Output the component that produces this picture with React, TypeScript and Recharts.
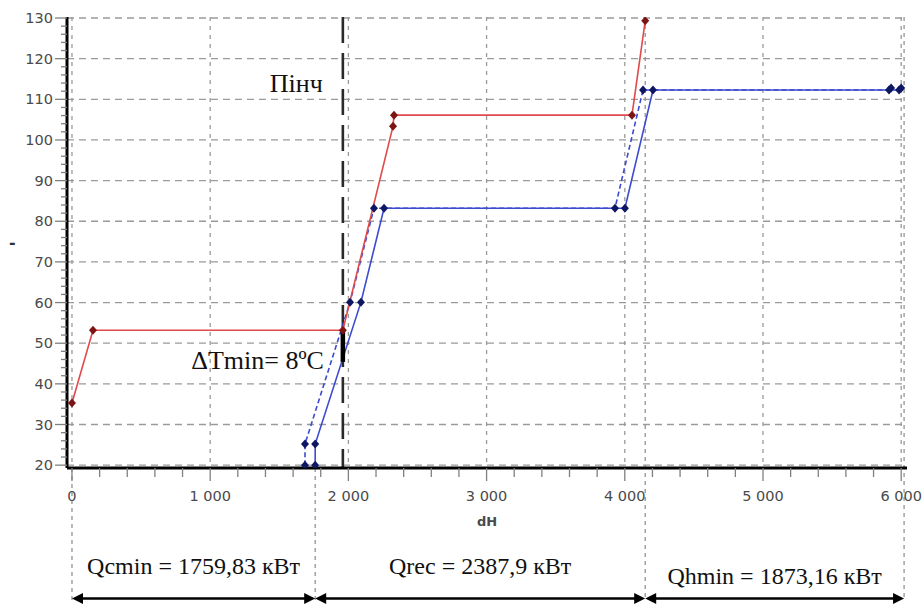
import React from 'react';
import { LineChart, Line, XAxis, YAxis, CartesianGrid, ReferenceLine, ReferenceDot, Label } from 'recharts';

// hot composite curve (red)
const HOT_DH = [0, 152, 1960, 2323, 2330, 4052, 4147.73];
const HOT_T = [35.3, 53.2, 53.2, 103.4, 106.1, 106.1, 129.3];

// cold composite curve (blue, solid)
const COLD_DH = [1759.83, 1759.83, 2091, 2258, 4001, 4204, 5985, 6000];
const COLD_T = [20, 25.2, 60.1, 83.2, 83.2, 112.3, 112.3, 112.8];

// shifted cold curve (blue, dashed)
const COLD_SH_DH = [1686, 1686, 2012, 2185, 3929, 4132, 5912, 5927];
const COLD_SH_T = [20, 25.2, 60.1, 83.2, 83.2, 112.3, 112.3, 112.8];

const X_TICKS = [0, 200, 400, 600, 800, 1000, 1200, 1400, 1600, 1800, 2000, 2200, 2400, 2600, 2800, 3000,
  3200, 3400, 3600, 3800, 4000, 4200, 4400, 4600, 4800, 5000, 5200, 5400, 5600, 5800, 6000];
const X_GRID = [0, 1000, 2000, 3000, 4000, 5000, 6000];
const Y_TICKS = [20, 22, 24, 26, 28, 30, 32, 34, 36, 38, 40, 42, 44, 46, 48, 50, 52, 54, 56, 58, 60, 62, 64, 66,
  68, 70, 72, 74, 76, 78, 80, 82, 84, 86, 88, 90, 92, 94, 96, 98, 100, 102, 104, 106, 108, 110, 112, 114, 116,
  118, 120, 122, 124, 126, 128, 130];
const Y_GRID = [20, 30, 40, 50, 60, 70, 80, 90, 100, 110, 120, 130];

const PINCH_DH = 1960;
const PINCH_HOT = 53.4;
const PINCH_COLD = 45.4;
const BOUNDS = [0, 1759.83, 4147.73, 6020.89];
const Q_LABELS = ['Qcmin = 1759,83 кВт', 'Qrec = 2387,9 кВт', 'Qhmin = 1873,16 кВт'];

const X_DOMAIN = [-36, 6042];
const Y_DOMAIN = [19.3, 130.25];
const ARROW_T = -12.8;
const GUIDE_BOTTOM = -13.3;

const hot = HOT_DH.map((dh, i) => ({ dh, t: HOT_T[i] }));
const cold = COLD_DH.map((dh, i) => ({ dh, t: COLD_T[i] }));
const coldShifted = COLD_SH_DH.map((dh, i) => ({ dh, t: COLD_SH_T[i] }));

const serif = '"Liberation Serif", "Times New Roman", serif';
const sans = '"DejaVu Sans", Verdana, sans-serif';

const Diamond = ({ cx, cy, color }: any) => {
  if (cx == null || cy == null) return null;
  return <polygon points={`${cx},${cy - 4.5} ${cx + 4},${cy} ${cx},${cy + 4.5} ${cx - 4},${cy}`} fill={color} />;
};

const fmt = (v: number) => (v >= 1000 ? `${Math.floor(v / 1000)} ${String(v % 1000).padStart(3, '0')}` : String(v));

const XTick = ({ x, y, payload }: any) => {
  const major = payload.value % 1000 === 0;
  return (
    <g>
      <line x1={x} x2={x} y1={y} y2={y + (major ? 13 : 9)} stroke="#808080" strokeWidth={1.3} />
      {major && (
        <text x={x} y={y + 33} textAnchor="middle" fill="#4a4a4a" fontSize={14.5} fontFamily={sans}>
          {fmt(payload.value)}
        </text>
      )}
    </g>
  );
};

const YTick = ({ x, y, payload }: any) => {
  const major = payload.value % 10 === 0;
  return (
    <g>
      <line x1={x - (major ? 12 : 6)} x2={x} y1={y} y2={y} stroke="#808080" strokeWidth={1.3} />
      {major && (
        <text x={x - 14} y={y + 5} textAnchor="end" fill="#4a4a4a" fontSize={14.5} fontFamily={sans}>
          {payload.value}
        </text>
      )}
    </g>
  );
};

const Arrow = (p: any) => {
  const { x1, y1, x2, y2 } = p;
  const h = 11;
  const w = 5.5;
  return (
    <g>
      <line x1={x1 + 4} y1={y1} x2={x2 - 4} y2={y2} stroke="#000" strokeWidth={2.5} />
      <polygon points={`${x1},${y1} ${x1 + h},${y1 - w} ${x1 + h},${y1 + w}`} fill="#000" />
      <polygon points={`${x2},${y2} ${x2 - h},${y2 - w} ${x2 - h},${y2 + w}`} fill="#000" />
    </g>
  );
};

export default function App() {
  return (
    <div>
      <style>{'body{margin:0;background:#fff}'}</style>
      <LineChart width={922} height={605} margin={{ top: 17, right: 15, bottom: 77, left: 0 }}>
        <CartesianGrid horizontal vertical={false} horizontalValues={Y_GRID} stroke="#9a9a9a" strokeWidth={1.3} strokeDasharray="7 5" />
        <CartesianGrid horizontal={false} vertical verticalValues={X_GRID} stroke="#9a9a9a" strokeWidth={1.3} strokeDasharray="4 5" />
        <XAxis
          dataKey="dh"
          type="number"
          domain={X_DOMAIN}
          allowDataOverflow
          ticks={X_TICKS}
          interval={0}
          height={60}
          tickSize={0}
          tickMargin={0}
          tickLine={false}
          axisLine={{ stroke: '#000', strokeWidth: 3 }}
          tick={<XTick />}
        >
          <Label value="dH" position="insideBottom" offset={2} style={{ fontFamily: sans, fontSize: 13, fontWeight: 'bold', fill: '#4a4a4a' }} />
        </XAxis>
        <XAxis xAxisId="top" orientation="top" dataKey="dh" type="number" domain={X_DOMAIN} allowDataOverflow height={0} tick={false} tickLine={false} axisLine={{ stroke: '#222', strokeWidth: 2.5 }} />
        <YAxis
          type="number"
          domain={Y_DOMAIN}
          allowDataOverflow
          ticks={Y_TICKS}
          interval={0}
          width={67}
          tickSize={0}
          tickMargin={0}
          tickLine={false}
          axisLine={{ stroke: '#000', strokeWidth: 3 }}
          tick={<YTick />}
        >
          <Label value="-" position="insideLeft" offset={9} style={{ fontFamily: sans, fontSize: 16, fontWeight: 'bold', fill: '#333' }} />
        </YAxis>
        <YAxis yAxisId="right" orientation="right" type="number" domain={Y_DOMAIN} allowDataOverflow width={0} tick={false} tickLine={false} axisLine={{ stroke: '#333', strokeWidth: 2.5 }} />

        {/* guide lines of the heat balance */}
        {BOUNDS.map((b, i) => (
          <ReferenceLine
            key={`g${i}`}
            segment={[{ x: b, y: i >= 2 ? Y_DOMAIN[1] : Y_DOMAIN[0] }, { x: b, y: GUIDE_BOTTOM }]}
            ifOverflow="visible"
            stroke="#8a8a8a"
            strokeWidth={1.2}
            strokeDasharray="4 4"
          />
        ))}

        <ReferenceLine
          segment={[{ x: PINCH_DH, y: Y_DOMAIN[1] }, { x: PINCH_DH, y: Y_DOMAIN[0] }]}
          ifOverflow="visible"
          stroke="#2a2a2a"
          strokeWidth={2.6}
          strokeDasharray="26 10"
        />

        <Line data={coldShifted} dataKey="t" type="linear" stroke="#3c4bd0" strokeWidth={1.6} strokeDasharray="5 3"
          dot={<Diamond color="#0d1763" />} activeDot={false} isAnimationActive={false} />
        <Line data={cold} dataKey="t" type="linear" stroke="#3c4bd0" strokeWidth={1.6}
          dot={<Diamond color="#0d1763" />} activeDot={false} isAnimationActive={false} />
        <Line data={hot} dataKey="t" type="linear" stroke="#e04a4a" strokeWidth={1.6}
          dot={<Diamond color="#7d1414" />} activeDot={false} isAnimationActive={false} />

        <ReferenceLine
          segment={[{ x: PINCH_DH, y: PINCH_HOT }, { x: PINCH_DH, y: PINCH_COLD }]}
          stroke="#000"
          strokeWidth={4.5}
        />
        <ReferenceDot x={PINCH_DH} y={114} r={0} fill="none" stroke="none"
          label={{ value: 'Пінч', position: 'left', offset: 20, style: { fontFamily: serif, fontSize: 26, fill: '#111' } }} />
        <ReferenceDot x={PINCH_DH} y={46} r={0} fill="none" stroke="none"
          label={{ value: 'ΔTmin= 8ºC', position: 'left', offset: 19, style: { fontFamily: serif, fontSize: 26, fill: '#111' } }} />

        {Q_LABELS.map((q, i) => (
          <ReferenceLine
            key={`a${i}`}
            segment={[{ x: BOUNDS[i], y: ARROW_T }, { x: BOUNDS[i + 1], y: ARROW_T }]}
            ifOverflow="visible"
            shape={<Arrow />}
            label={{ value: q, position: 'top', offset: i === 2 ? 14 : 24, style: { fontFamily: serif, fontSize: 24, fill: '#111' } }}
          />
        ))}
      </LineChart>
    </div>
  );
}
